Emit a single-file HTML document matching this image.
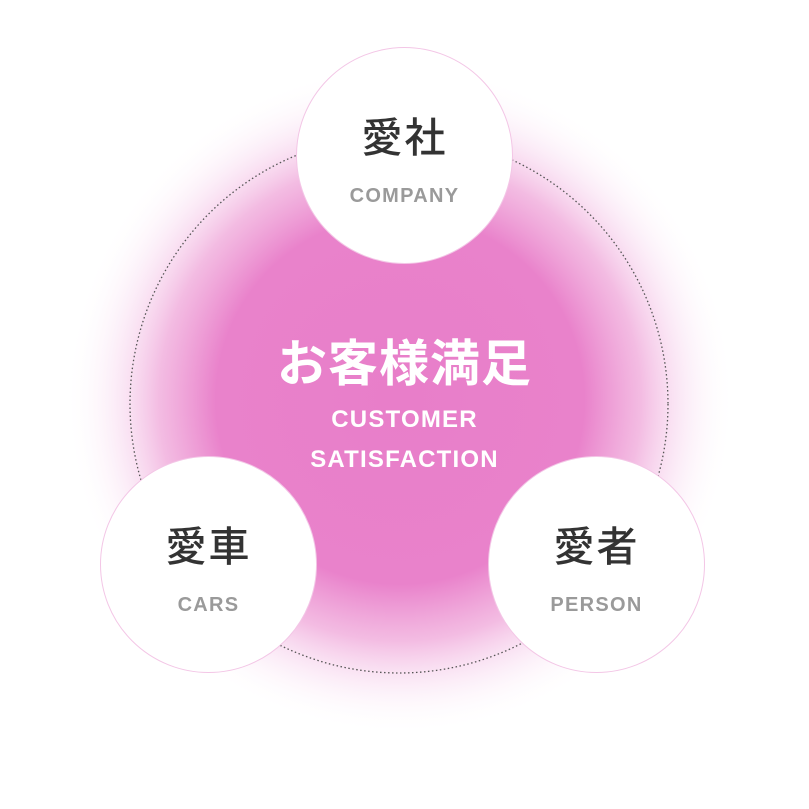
<!DOCTYPE html>
<html><head><meta charset="utf-8"><style>
html,body{margin:0;padding:0;background:#fff;}
body{width:809px;height:809px;position:relative;overflow:hidden;font-family:"Liberation Sans","Noto Sans CJK JP",sans-serif;}
.c{position:absolute;width:217px;height:217px;border-radius:50%;background:#fff;border:1px solid #f3c6e6;box-sizing:border-box;text-align:center;}
.c .j{position:absolute;left:0;right:0;top:64px;font-family:"Noto Sans CJK JP",sans-serif;font-weight:500;font-size:41px;color:#333;line-height:44px;letter-spacing:2px;}
.c .e{position:absolute;left:0;right:0;top:137px;font-size:20px;font-weight:bold;color:#9a9a9a;line-height:22px;letter-spacing:1.3px;}
.t{position:absolute;left:0;width:809px;text-align:center;color:#fff;font-weight:bold;}
</style></head><body>
<svg width="809" height="809" style="position:absolute;left:0;top:0">
<defs><radialGradient id="g" cx="400" cy="400" r="335" gradientUnits="userSpaceOnUse">
<stop offset="0" stop-color="#e87ec9"/>
<stop offset="0.55" stop-color="#e982cb"/>
<stop offset="0.72" stop-color="#ee9fd6" stop-opacity="0.7"/>
<stop offset="0.86" stop-color="#f6d0ec" stop-opacity="0.35"/>
<stop offset="1" stop-color="#fff" stop-opacity="0"/>
</radialGradient></defs>
<circle cx="400" cy="400" r="335" fill="url(#g)"/>
<circle cx="399" cy="404" r="269" fill="none" stroke="#555" stroke-width="1.3" stroke-dasharray="1.5 2.5"/>
</svg>
<div class="c" style="left:296px;top:47px"><div class="j">愛社</div><div class="e">COMPANY</div></div>
<div class="c" style="left:100px;top:456px"><div class="j">愛車</div><div class="e">CARS</div></div>
<div class="c" style="left:488px;top:456px"><div class="j">愛者</div><div class="e">PERSON</div></div>
<div class="t" style="top:329px;font-family:'Noto Sans CJK JP',sans-serif;font-size:50px;line-height:62px;font-weight:bold;letter-spacing:1px;">お客様満足</div>
<div class="t" style="top:406px;font-size:24px;line-height:28px;letter-spacing:1.2px;">CUSTOMER</div>
<div class="t" style="top:446px;font-size:24px;line-height:28px;letter-spacing:1.2px;">SATISFACTION</div>
</body></html>
